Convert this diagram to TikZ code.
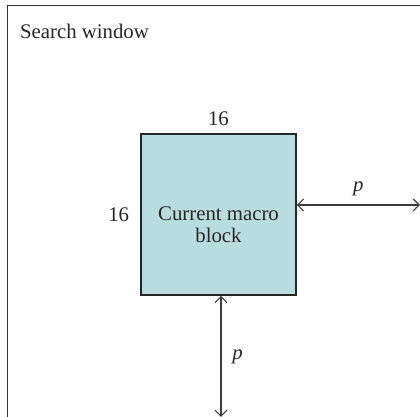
\documentclass[tikz,border=0pt]{standalone}
\usepackage{fontspec}
\setmainfont{Liberation Serif}
\usepackage{tikz}
\usetikzlibrary{arrows.meta, positioning}
\definecolor{mbfill}{RGB}{185,220,223}
\definecolor{arrowgray}{RGB}{60,60,60}

\begin{document}
\begin{tikzpicture}[x=0.5pt, y=-0.5pt,
  every node/.style={font=\fontsize{10.4}{11.2}\selectfont, text=black!85},
  mblock/.style={draw=black!85, line width=0.8pt, fill=mbfill,
    minimum width=77.5pt, minimum height=80.5pt, inner sep=0pt},
  sizearrow/.style={arrowgray, line width=0.6pt,
    {Straight Barb[length=3pt,width=6pt]}-{Straight Barb[length=3pt,width=6pt]}}]
  \useasboundingbox (0,0) rectangle (420,417);
  \clip (0,0) rectangle (420,417);
  % Search window (cut off at right and bottom)
  \draw[black!80, line width=0.5pt] (8,440) -- (8,6) -- (440,6);
  \node[anchor=west] (sw) at (13,31) {Search window};
  % Current macro block
  \node[mblock] (mb) at (218.5,214.5) {};
  \node[align=center] (mbtext) at ([yshift=-5pt]mb.center) {Current macro\\block};
  \node[above=0pt of mb.north] (wtop) {16};
  \node[left=2pt of mb.west] (hleft) {16};
  % Search range p
  \coordinate (rend) at (420,205);
  \coordinate (bend) at (221,417);
  \draw[sizearrow] (mb.east |- rend) -- (rend)
    node[midway, above=1pt] (pright) {\textit{p}};
  \draw[sizearrow] (mb.south -| bend) -- (bend)
    node[midway, right=2pt] (pbottom) {\textit{p}};
\end{tikzpicture}
\end{document}
